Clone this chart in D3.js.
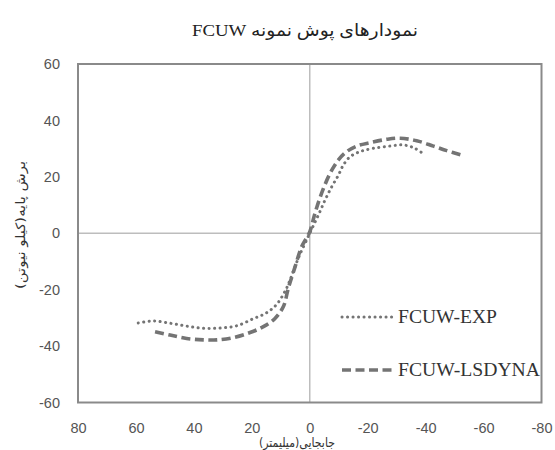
<!DOCTYPE html>
<html>
<head>
<meta charset="utf-8">
<script src="https://cdn.jsdelivr.net/npm/d3@7/dist/d3.min.js"></script>
<style>
  html, body { margin: 0; padding: 0; background: #fff; }
  svg { display: block; }
</style>
</head>
<body>
<svg id="chart" width="555" height="450"></svg>
<script>
// Envelope (backbone) curves: displacement (mm) vs base shear (kN)
const expDisp = [59.2, 54, 48.2, 42.5, 36.7, 30.9, 25.2, 19.5, 14.9, 11.4, 8.5, 6.8, 4, 0, -3, -5.3, -7.6, -9.9, -11.6, -13.9, -17.3, -21.9, -27.7, -32.3, -36.3, -39.8];
const expShear = [-31.8, -31.1, -31.9, -32.9, -33.7, -33.6, -32.8, -30.3, -28.2, -25.2, -20.5, -16.6, -9, 0, 6.5, 11.8, 16.5, 20.6, 24.2, 27.1, 28.9, 30.1, 30.9, 31.3, 30.1, 27.7];

const lsDisp = [53.4, 48.2, 42.5, 36.7, 32.1, 26.4, 20.6, 16.0, 12.0, 9.1, 7.4, 5.1, 2.8, 0, -1.8, -4.1, -7.0, -9.9, -12.7, -16.2, -20.8, -26.6, -31.2, -36.9, -42.7, -47.3, -52.4];
const lsShear = [-34.9, -36.1, -37.3, -37.8, -37.8, -37.0, -35.2, -33.1, -30.2, -26, -19.5, -12, -4.8, 0.5, 7.1, 14.2, 21.2, 26, 28.9, 30.9, 32.1, 33.3, 33.7, 32.8, 30.9, 29.3, 27.7];

const seriesNames = ["FCUW-EXP", "FCUW-LSDYNA"];
const xTicks = [80, 60, 40, 20, 0, -20, -40, -60, -80];
const yTicks = [60, 40, 20, 0, -20, -40, -60];

const titleText = "نمودارهای پوش نمونه FCUW";
const xTitle = "جابجایی(میلیمتر)";
const yTitle = "برش پایه(کیلو نیوتن)";

const svg = d3.select("#chart");
const plot = { left: 78, right: 541.5, top: 64, bottom: 402.5 };

// Displacement axis runs from +80 on the left to -80 on the right
const x = d3.scaleLinear().domain([80, -80]).range([plot.left, plot.right]);
const y = d3.scaleLinear().domain([-60, 60]).range([plot.bottom, plot.top]);

const persianFont = "'DejaVu Sans', sans-serif";

// Title (right-to-left paragraph)
svg.append("text")
  .attr("x", 305).attr("y", 30)
  .attr("direction", "rtl")
  .attr("text-anchor", "middle")
  .attr("dominant-baseline", "central")
  .attr("font-family", "'Liberation Serif', 'DejaVu Sans', serif")
  .attr("font-size", 17)
  .attr("textLength", 226)
  .attr("lengthAdjust", "spacingAndGlyphs")
  .attr("fill", "#222")
  .text(titleText);

// Zero reference lines
svg.append("line")
  .attr("x1", x(0)).attr("x2", x(0))
  .attr("y1", plot.top).attr("y2", plot.bottom)
  .attr("stroke", "#bdbdbd").attr("stroke-width", 1.5);
svg.append("line")
  .attr("x1", plot.left).attr("x2", plot.right)
  .attr("y1", y(0)).attr("y2", y(0))
  .attr("stroke", "#bdbdbd").attr("stroke-width", 1.5);

// Plot frame
svg.append("rect")
  .attr("x", plot.left).attr("y", plot.top)
  .attr("width", plot.right - plot.left)
  .attr("height", plot.bottom - plot.top)
  .attr("fill", "none")
  .attr("stroke", "#8a8a8a").attr("stroke-width", 2);

// Axes (labels only, no tick marks), plain hyphen for negatives
const tickFont = "'Liberation Sans', Arial, sans-serif";
const fmt = d => String(d);
const xAxis = svg.append("g")
  .attr("transform", `translate(0,${plot.bottom})`)
  .call(d3.axisBottom(x).tickValues(xTicks).tickFormat(fmt).tickSize(0).tickPadding(20));
const yAxis = svg.append("g")
  .attr("transform", `translate(${plot.left},0)`)
  .call(d3.axisLeft(y).tickValues(yTicks).tickFormat(fmt).tickSize(0).tickPadding(18));
[xAxis, yAxis].forEach(g => {
  g.select(".domain").remove();
  g.selectAll("text")
    .attr("font-family", tickFont)
    .attr("font-size", 14.5)
    .attr("fill", "#555");
});

// Axis titles
svg.append("text")
  .attr("x", 297).attr("y", 442)
  .attr("direction", "rtl")
  .attr("text-anchor", "middle")
  .attr("dominant-baseline", "central")
  .attr("font-family", persianFont)
  .attr("font-size", 13)
  .attr("textLength", 76)
  .attr("lengthAdjust", "spacingAndGlyphs")
  .attr("fill", "#333")
  .text(xTitle);
svg.append("text")
  .attr("transform", "translate(20,225) rotate(-90)")
  .attr("direction", "rtl")
  .attr("text-anchor", "middle")
  .attr("dominant-baseline", "central")
  .attr("font-family", persianFont)
  .attr("font-size", 13)
  .attr("textLength", 128)
  .attr("lengthAdjust", "spacingAndGlyphs")
  .attr("fill", "#333")
  .text(yTitle);

// Curves
const line = d3.line()
  .x(d => x(d[0]))
  .y(d => y(d[1]))
  .curve(d3.curveCatmullRom.alpha(0.5));

const styles = [
  { dash: "0.1,5.4", width: 3, cap: "round" },
  { dash: "9,4.5", width: 3.6, cap: "butt" }
];
const datasets = [
  d3.zip(expDisp, expShear),
  d3.zip(lsDisp, lsShear)
];

datasets.forEach((pts, i) => {
  svg.append("path")
    .datum(pts)
    .attr("d", line)
    .attr("fill", "none")
    .attr("stroke", "#747474")
    .attr("stroke-width", styles[i].width)
    .attr("stroke-linecap", styles[i].cap)
    .attr("stroke-dasharray", styles[i].dash);
});

// Legend
const legendRows = [317, 370];
const legendWidths = [99, 142];
seriesNames.forEach((name, i) => {
  svg.append("line")
    .attr("x1", 342).attr("x2", 394)
    .attr("y1", legendRows[i]).attr("y2", legendRows[i])
    .attr("stroke", "#747474")
    .attr("stroke-width", styles[i].width)
    .attr("stroke-linecap", styles[i].cap)
    .attr("stroke-dasharray", styles[i].dash);
  svg.append("text")
    .attr("x", 398).attr("y", legendRows[i])
    .attr("dominant-baseline", "central")
    .attr("font-family", "'Liberation Serif', 'Times New Roman', serif")
    .attr("font-size", 18.5)
    .attr("textLength", legendWidths[i])
    .attr("lengthAdjust", "spacingAndGlyphs")
    .attr("fill", "#333")
    .text(name);
});
</script>
</body>
</html>
